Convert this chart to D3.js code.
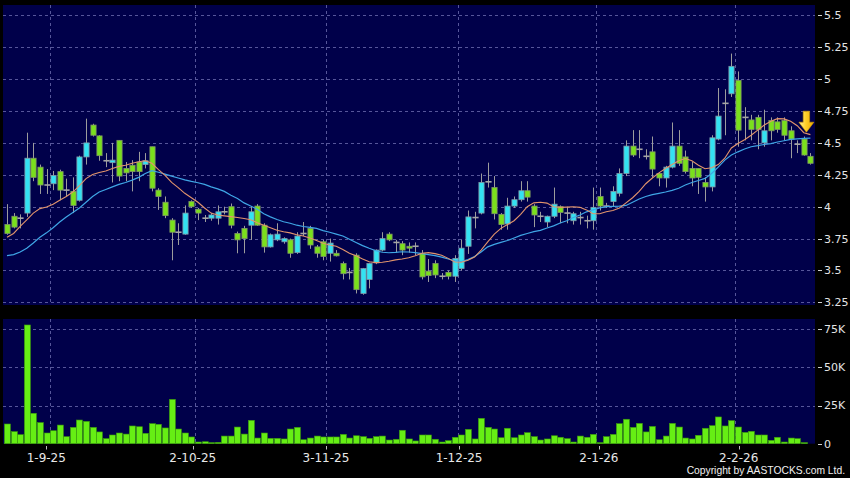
<!DOCTYPE html>
<html><head><meta charset="utf-8">
<script src="https://cdn.jsdelivr.net/npm/d3@7"></script>
<style>html,body{margin:0;padding:0;background:#000;}svg{display:block}</style>
</head><body><svg id="c" width="850" height="478"></svg>
<script>
// ---- data ----
const openP = [3.86,3.925,3.91,3.95,4.38,4.31,4.17,4.18,4.275,4.13,
4.12,4.05,4.39,4.64,4.555,4.36,4.345,4.52,4.30,4.325,
4.35,4.33,4.47,4.13,4.035,3.895,3.80,3.785,4.04,3.98,
3.91,3.91,3.91,3.96,4.0,3.79,3.83,3.855,4.005,3.855,
3.685,3.74,3.725,3.74,3.64,3.79,3.83,3.685,3.725,3.635,
3.635,3.555,3.485,3.62,3.32,3.43,3.56,3.66,3.785,3.72,
3.71,3.69,3.69,3.635,3.495,3.555,3.455,3.485,3.455,3.515,
3.69,3.915,3.95,4.195,4.15,3.94,3.865,4.005,4.055,4.125,
4.005,3.925,3.88,3.925,4.0,3.95,3.89,3.915,3.89,3.89,
4.08,4.005,4.04,4.105,4.26,4.475,4.45,4.395,4.43,4.26,
4.225,4.31,4.475,4.39,4.30,4.30,4.19,4.155,4.53,4.81,
4.885,4.99,4.70,4.68,4.70,4.50,4.675,4.665,4.675,4.595,
4.49,4.53,4.395];
const highP = [4.02,3.95,3.94,4.58,4.50,4.33,4.295,4.28,4.29,4.22,
4.23,4.40,4.69,4.65,4.56,4.42,4.50,4.52,4.35,4.365,
4.43,4.42,4.47,4.145,4.08,3.91,3.87,4.01,4.05,3.99,
3.935,3.95,4.01,4.0,4.025,3.805,3.85,4.0,4.02,3.87,
3.79,3.87,3.76,3.75,3.80,3.88,3.85,3.70,3.74,3.75,
3.66,3.57,3.52,3.635,3.52,3.56,3.665,3.80,3.80,3.74,
3.73,3.72,3.72,3.66,3.59,3.58,3.48,3.50,3.62,3.74,
3.97,3.96,4.26,4.345,4.24,3.95,4.07,4.08,4.20,4.20,
4.02,3.96,3.93,4.15,4.01,4.0,3.96,3.96,3.93,4.15,
4.15,4.03,4.16,4.30,4.52,4.60,4.60,4.45,4.55,4.27,
4.32,4.66,4.60,4.44,4.35,4.30,4.23,4.56,4.93,4.92,
5.20,5.06,4.78,4.72,4.72,4.76,4.70,4.70,4.70,4.63,
4.52,4.55,4.42];
const lowP = [3.78,3.83,3.83,3.92,4.20,4.10,4.10,4.13,4.05,4.08,
3.95,4.04,4.33,4.55,4.36,4.31,4.19,4.20,4.20,4.12,
4.20,4.30,4.12,3.975,3.91,3.58,3.70,3.78,3.99,3.895,
3.88,3.89,3.86,3.94,3.83,3.635,3.635,3.74,3.85,3.64,
3.68,3.73,3.71,3.60,3.63,3.77,3.67,3.60,3.58,3.57,
3.61,3.43,3.43,3.32,3.31,3.36,3.55,3.65,3.73,3.64,
3.62,3.64,3.62,3.43,3.41,3.44,3.43,3.43,3.41,3.50,
3.63,3.83,3.94,4.15,3.90,3.82,3.82,3.99,4.04,4.04,
3.84,3.88,3.84,3.91,3.87,3.87,3.86,3.86,3.83,3.82,
3.97,3.99,4.0,4.08,4.24,4.39,4.38,4.37,4.23,4.16,
4.15,4.30,4.32,4.26,4.16,4.10,4.04,4.12,4.52,4.56,
4.86,4.47,4.52,4.52,4.45,4.47,4.52,4.58,4.52,4.38,
4.42,4.40,4.33];
const closeP = [3.79,3.84,3.91,4.38,4.23,4.17,4.17,4.245,4.13,4.13,
4.01,4.39,4.50,4.56,4.40,4.36,4.365,4.24,4.265,4.275,
4.275,4.36,4.145,4.08,3.93,3.80,3.80,3.95,4.00,3.95,
3.91,3.935,3.96,3.96,3.855,3.74,3.75,3.96,3.855,3.685,
3.78,3.785,3.75,3.635,3.77,3.79,3.70,3.635,3.61,3.715,
3.615,3.475,3.485,3.35,3.515,3.555,3.66,3.75,3.74,3.72,
3.66,3.675,3.69,3.45,3.46,3.465,3.455,3.455,3.595,3.675,
3.92,3.915,4.19,4.195,3.945,3.86,4.005,4.055,4.125,4.075,
3.935,3.925,3.925,4.02,3.955,3.95,3.945,3.915,3.89,3.995,
4.005,4.005,4.12,4.26,4.475,4.405,4.45,4.395,4.295,4.225,
4.31,4.475,4.34,4.275,4.225,4.23,4.155,4.54,4.71,4.81,
5.10,4.60,4.70,4.605,4.605,4.595,4.595,4.605,4.56,4.53,
4.49,4.405,4.34];
const volume = [12900,7900,5900,77700,19900,13800,7000,8500,12200,4600,
10700,15500,14600,10700,7700,3300,5700,7000,6300,11600,
11100,6800,13100,12700,10300,29000,9600,7000,4400,1100,
1300,700,900,5000,5000,10900,6300,15300,3700,7000,
3500,3500,3100,9600,10700,2600,3700,5000,4400,4400,
4400,6100,3700,5200,4600,3500,4600,5000,2400,2900,
8800,3100,1800,5700,5700,2900,1100,2000,4200,5700,
9400,3100,16600,10700,9600,3900,10100,3900,5700,7200,
4600,2400,3100,5200,4200,3300,1100,5000,4200,6100,
700,4600,6100,13100,16000,10700,13300,7700,11300,2600,
5000,13300,10900,3700,3100,5500,10100,11800,17500,11600,
15100,10900,7400,8100,5700,5700,2200,4200,1100,3700,
3300,700,0];
const maShort = [3.76,3.79,3.845,3.896,3.95,3.985,3.997,4.02,4.05,4.08,
4.115,4.165,4.22,4.252,4.268,4.28,4.30,4.316,4.325,4.34,
4.352,4.36,4.34,4.29,4.245,4.19,4.15,4.105,4.07,4.035,
3.99,3.95,3.935,3.928,3.922,3.915,3.908,3.898,3.875,3.855,
3.835,3.815,3.804,3.795,3.78,3.77,3.755,3.735,3.713,3.70,
3.69,3.665,3.635,3.615,3.59,3.568,3.562,3.565,3.572,3.583,
3.59,3.60,3.615,3.635,3.64,3.632,3.62,3.595,3.567,3.565,
3.58,3.605,3.66,3.725,3.785,3.83,3.86,3.89,3.94,4.0,
4.03,4.035,4.028,4.0,3.995,3.997,4.0,3.995,3.975,3.945,
3.945,3.96,3.97,3.99,4.03,4.07,4.12,4.18,4.225,4.265,
4.30,4.33,4.36,4.378,4.36,4.325,4.298,4.305,4.33,4.38,
4.46,4.495,4.525,4.56,4.60,4.64,4.67,4.69,4.688,4.67,
4.635,4.58,4.565];
const maLong = [3.617,3.625,3.645,3.674,3.715,3.76,3.795,3.835,3.88,3.92,
3.955,3.99,4.035,4.08,4.115,4.135,4.155,4.175,4.19,4.208,
4.23,4.26,4.282,4.27,4.255,4.24,4.225,4.21,4.198,4.188,
4.175,4.155,4.14,4.12,4.09,4.065,4.03,4.005,3.98,3.945,
3.92,3.90,3.882,3.87,3.855,3.845,3.838,3.83,3.812,3.80,
3.785,3.77,3.745,3.72,3.695,3.674,3.655,3.643,3.639,3.642,
3.647,3.645,3.64,3.632,3.625,3.617,3.605,3.59,3.578,3.57,
3.585,3.61,3.645,3.685,3.705,3.72,3.735,3.755,3.775,3.79,
3.805,3.815,3.833,3.85,3.872,3.89,3.915,3.935,3.96,3.975,
3.99,4.0,4.003,4.005,4.01,4.035,4.06,4.08,4.095,4.105,
4.115,4.128,4.145,4.17,4.19,4.205,4.222,4.26,4.31,4.365,
4.405,4.43,4.452,4.47,4.478,4.488,4.495,4.507,4.517,4.527,
4.532,4.536,4.538];
const priceTicks = [3.25,3.5,3.75,4,4.25,4.5,4.75,5,5.25,5.5];
const volTicks = [0,25000,50000,75000];
const volTickLabels = ["0","25K","50K","75K"];
const dateTickIdx = [6.5,28.5,48.5,68.5,89.5,110.5];
const dateTickLabels = ["1-9-25","2-10-25","3-11-25","1-12-25","2-1-26","2-2-26"];

// ---- drawing ----
const n = closeP.length;
const svg = d3.select("#c");
svg.append("rect").attr("width",850).attr("height",478).attr("fill","#000");

const x = d3.scaleLinear().domain([-0.5, n - 0.5]).range([3.7, 813.7]);
const xLab = d3.scaleLinear().domain([-0.5, n - 0.5]).range([-0.3, 818.6]);
const y = d3.scaleLinear().domain([3.25, 5.5]).range([302.4, 15.3]);
const yv = d3.scaleLinear().domain([0, 75000]).range([443.7, 329.1]);

const NAVY = "#00004a", GRID = "#56569a";
const font = "'DejaVu Sans', Verdana, sans-serif";

// panels
svg.append("rect").attr("x",3).attr("y",5).attr("width",812).attr("height",300).attr("fill",NAVY);
svg.append("rect").attr("x",3).attr("y",319).attr("width",812).attr("height",124.7).attr("fill",NAVY);

const crisp = v => Math.round(v) + 0.5;

// horizontal grid - price
svg.append("g").selectAll("line").data(priceTicks).join("line")
  .attr("x1",3).attr("x2",815)
  .attr("y1",d=>crisp(y(d))).attr("y2",d=>crisp(y(d)))
  .attr("stroke",GRID).attr("stroke-dasharray","3,3").attr("stroke-width",1);
// horizontal grid - volume
svg.append("g").selectAll("line").data(volTicks.slice(1)).join("line")
  .attr("x1",3).attr("x2",815)
  .attr("y1",d=>crisp(yv(d))).attr("y2",d=>crisp(yv(d)))
  .attr("stroke",GRID).attr("stroke-dasharray","3,3").attr("stroke-width",1);
// vertical grid
[[5,305],[319,444]].forEach(([a,b])=>{
  svg.append("g").selectAll("line").data(dateTickIdx).join("line")
    .attr("x1",d=>crisp(x(d))).attr("x2",d=>crisp(x(d)))
    .attr("y1",a).attr("y2",b)
    .attr("stroke",GRID).attr("stroke-dasharray","3,3").attr("stroke-width",1);
});

// candles
const idx = d3.range(n);
const cg = svg.append("g");
const bw = 5.2;
cg.selectAll("line.wick").data(idx).join("line").attr("class","wick")
  .attr("x1",i=>crisp(x(i))).attr("x2",i=>crisp(x(i)))
  .attr("y1",i=>y(highP[i])).attr("y2",i=>y(lowP[i]))
  .attr("stroke","#9c9c9c").attr("stroke-width",1);
const isDoji = i => Math.abs(closeP[i]-openP[i]) < 0.008;
cg.selectAll("rect.body").data(idx.filter(i=>!isDoji(i))).join("rect").attr("class","body")
  .attr("x",i=>Math.round(x(i))-2.1).attr("width",bw)
  .attr("y",i=>y(Math.max(openP[i],closeP[i])))
  .attr("height",i=>Math.max(1,Math.abs(y(openP[i])-y(closeP[i]))))
  .attr("fill",i=>closeP[i]>openP[i] ? "#33e2f2" : "#7ae01c")
  .attr("stroke",i=>closeP[i]>openP[i] ? "#7f97a6" : "#7f9466").attr("stroke-width",0.8);
cg.selectAll("line.doji").data(idx.filter(isDoji)).join("line").attr("class","doji")
  .attr("x1",i=>Math.round(x(i))-2.6).attr("x2",i=>Math.round(x(i))+3.6)
  .attr("y1",i=>y(closeP[i])).attr("y2",i=>y(closeP[i]))
  .attr("stroke","#a6a6a6").attr("stroke-width",1.6);

// moving averages
const lineGen = arr => d3.line().x(i=>x(i)).y(i=>y(arr[i])).curve(d3.curveLinear)(idx);
svg.append("path").attr("d",lineGen(maLong)).attr("fill","none")
  .attr("stroke","#3fa6e6").attr("stroke-width",1.2);
svg.append("path").attr("d",lineGen(maShort)).attr("fill","none")
  .attr("stroke","#e2946c").attr("stroke-width",1.1);

// arrow marker at last short MA
const ax = x(n-1) - 4, ay = y(maShort[n-2]) - 0.5;
const grad = svg.append("defs").append("linearGradient").attr("id","ag")
  .attr("x1",0).attr("x2",1).attr("y1",0).attr("y2",0);
grad.append("stop").attr("offset","0%").attr("stop-color","#fff0a0");
grad.append("stop").attr("offset","45%").attr("stop-color","#ffd02a");
grad.append("stop").attr("offset","100%").attr("stop-color","#eaa800");
svg.append("path")
  .attr("d",`M${ax-3.2},${ay-21} L${ax+3.2},${ay-21} L${ax+3.2},${ay-10} L${ax+7.5},${ay-10} L${ax},${ay} L${ax-7.5},${ay-10} L${ax-3.2},${ay-10} Z`)
  .attr("fill","url(#ag)").attr("stroke","#d09a00").attr("stroke-width",0.6);

// volume bars
svg.append("g").selectAll("rect").data(idx.filter(i=>volume[i]>0)).join("rect")
  .attr("x",i=>Math.round(x(i))-2.6).attr("width",6)
  .attr("y",i=>yv(volume[i])).attr("height",i=>yv(0)-yv(volume[i]))
  .attr("fill","#66ee14").attr("stroke","#3b9a0c").attr("stroke-width",0.6);

// right axis labels - price
const pa = svg.append("g");
pa.selectAll("line").data(priceTicks).join("line")
  .attr("x1",818).attr("x2",822).attr("y1",d=>crisp(y(d))).attr("y2",d=>crisp(y(d)))
  .attr("stroke","#d0d0d0");
pa.selectAll("text").data(priceTicks).join("text")
  .attr("x",824).attr("y",d=>y(d)).attr("dy","0.36em")
  .attr("font-family",font).attr("font-size",11).attr("fill","#e4e4e4")
  .text(d=>d3.format("")(d));
// right axis labels - volume
const va = svg.append("g");
va.selectAll("line").data(volTicks).join("line")
  .attr("x1",818).attr("x2",822).attr("y1",d=>crisp(yv(d))).attr("y2",d=>crisp(yv(d)))
  .attr("stroke","#d0d0d0");
va.selectAll("text").data(volTicks).join("text")
  .attr("x",824).attr("y",d=>yv(d)).attr("dy","0.36em")
  .attr("font-family",font).attr("font-size",11).attr("fill","#e4e4e4")
  .text((d,i)=>volTickLabels[i]);

// date labels
const da = svg.append("g");
da.selectAll("line").data(dateTickIdx).join("line")
  .attr("x1",d=>crisp(xLab(d))).attr("x2",d=>crisp(xLab(d))).attr("y1",446).attr("y2",449.5)
  .attr("stroke","#bdbdbd");
da.selectAll("text").data(dateTickIdx).join("text")
  .attr("x",d=>xLab(d)).attr("y",462).attr("text-anchor","middle")
  .attr("font-family",font).attr("font-size",12).attr("fill","#e8e8e8")
  .text((d,i)=>dateTickLabels[i]);

svg.append("text").attr("x",845).attr("y",473.5).attr("text-anchor","end")
  .attr("font-family","'Liberation Sans', Arial, sans-serif").attr("font-size",10.3)
  .attr("fill","#f0f0f0").text("Copyright by AASTOCKS.com Ltd.");
</script></body></html>
